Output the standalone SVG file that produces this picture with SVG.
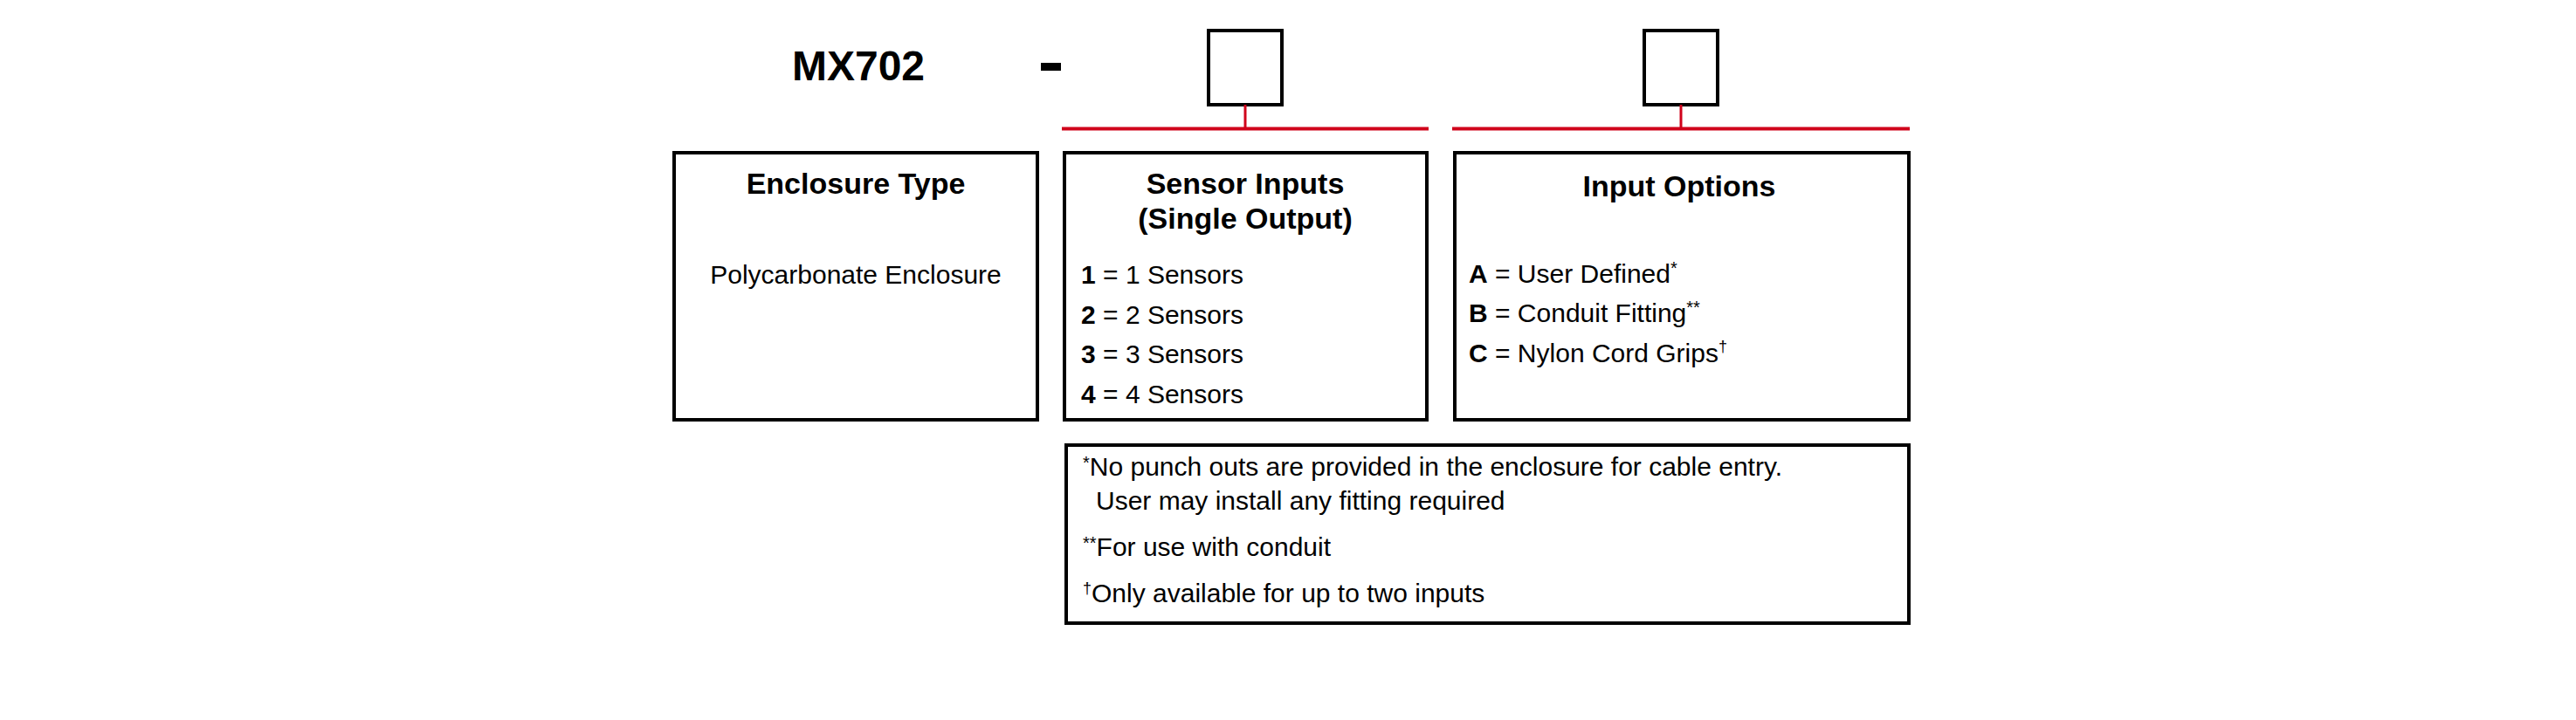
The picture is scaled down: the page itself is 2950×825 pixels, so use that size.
<svg xmlns="http://www.w3.org/2000/svg" width="2950" height="825" viewBox="0 0 2950 825">
<style>
text{font-family:"Liberation Sans",Arial,sans-serif;fill:#000}
.t{font-size:34px;font-weight:bold;text-anchor:middle}
.b{font-size:30px}
.box{fill:#fff;stroke:#000;stroke-width:4}
.red{stroke:#d0021b;fill:none}
</style>
<rect width="2950" height="825" fill="#fff"/>
<g id="title">
<text x="983" y="92" font-size="48" font-weight="bold" text-anchor="middle">MX702</text>
<rect x="1192" y="72" width="23" height="9" fill="#000"/>
</g>
<g id="slot1"><rect class="box" x="1384" y="35" width="84" height="85" stroke-width="2"/></g>
<g id="slot2"><rect class="box" x="1883" y="35" width="84" height="85" stroke-width="2"/></g>
<g id="connectors">
<line class="red" x1="1426" y1="120" x2="1426" y2="147" stroke-width="3"/>
<line class="red" x1="1925" y1="120" x2="1925" y2="147" stroke-width="3"/>
<line class="red" x1="1216" y1="147.5" x2="1636" y2="147.5" stroke-width="4"/>
<line class="red" x1="1663" y1="147.5" x2="2187" y2="147.5" stroke-width="4"/>
</g>
<g id="enclosure">
<rect class="box" x="772" y="175" width="416" height="306"/>
<text class="t" x="980" y="222">Enclosure Type</text>
<text class="b" x="980" y="325" text-anchor="middle">Polycarbonate Enclosure</text>
</g>
<g id="sensors">
<rect class="box" x="1219" y="175" width="415" height="306"/>
<text class="t" x="1426" y="222">Sensor Inputs</text>
<text class="t" x="1426" y="262">(Single Output)</text>
<text class="b" x="1238" y="325"><tspan font-weight="bold">1</tspan> = 1 Sensors</text>
<text class="b" x="1238" y="371"><tspan font-weight="bold">2</tspan> = 2 Sensors</text>
<text class="b" x="1238" y="416"><tspan font-weight="bold">3</tspan> = 3 Sensors</text>
<text class="b" x="1238" y="462"><tspan font-weight="bold">4</tspan> = 4 Sensors</text>
</g>
<g id="options">
<rect class="box" x="1666" y="175" width="520" height="306"/>
<text class="t" x="1923" y="225">Input Options</text>
<text class="b" x="1682" y="324"><tspan font-weight="bold">A</tspan> = User Defined<tspan font-size="20" dy="-10">*</tspan></text>
<text class="b" x="1682" y="369"><tspan font-weight="bold">B</tspan> = Conduit Fitting<tspan font-size="20" dy="-10">**</tspan></text>
<text class="b" x="1682" y="415"><tspan font-weight="bold">C</tspan> = Nylon Cord Grips<tspan font-size="18" dy="-12">†</tspan></text>
</g>
<g id="footnotes">
<rect class="box" x="1221" y="510" width="965" height="204"/>
<text class="b" x="1240" y="545"><tspan font-size="20" dy="-8">*</tspan><tspan dy="8">No punch outs are provided in the enclosure for cable entry.</tspan></text>
<text class="b" x="1255" y="584">User may install any fitting required</text>
<text class="b" x="1240" y="637"><tspan font-size="20" dy="-8">**</tspan><tspan dy="8">For use with conduit</tspan></text>
<text class="b" x="1240" y="690"><tspan font-size="18" dy="-10">†</tspan><tspan dy="10">Only available for up to two inputs</tspan></text>
</g>
</svg>
